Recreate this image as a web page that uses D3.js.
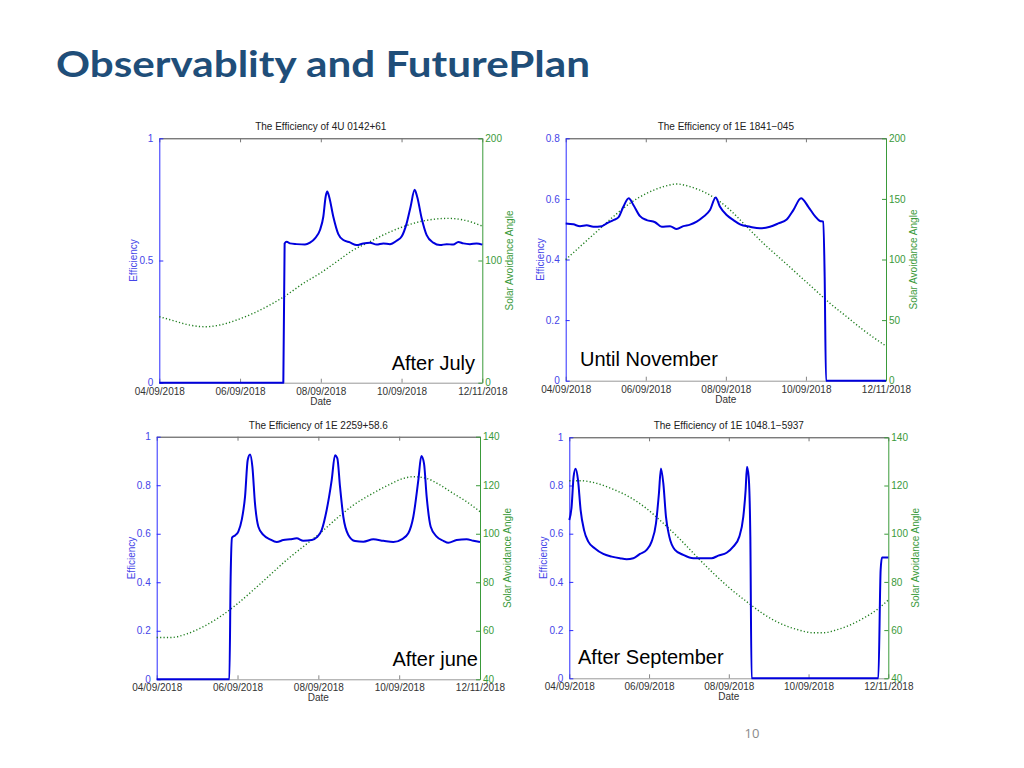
<!DOCTYPE html>
<html><head><meta charset="utf-8">
<script src="https://d3js.org/d3.v7.min.js"></script>
<style>body{margin:0;background:#fff}svg{display:block}</style>
</head><body>
<svg id="c" width="1024" height="768"></svg>
<script>
// ---------- data ----------
const dateTicks = ["04/09/2018","06/09/2018","08/09/2018","10/09/2018","12/11/2018"];
const tickPos = [0,1,2,3,4];
const titles = ["The Efficiency of 4U 0142+61","The Efficiency of 1E 1841\u2212045","The Efficiency of 1E 2259+58.6","The Efficiency of 1E 1048.1\u22125937"];
const notes = ["After July","Until November","After june","After September"];
const effTicks1 = [0,0.5,1], angTicks1 = [0,100,200];
const effTicks2 = [0,0.2,0.4,0.6,0.8], angTicks2 = [0,50,100,150,200];
const effTicks3 = [0,0.2,0.4,0.6,0.8,1], angTicks3 = [40,60,80,100,120,140];
const effTicks4 = [0,0.2,0.4,0.6,0.8,1], angTicks4 = [40,60,80,100,120,140];

const eff1 = [[0,0],[1.536,0],[1.552,0.57],[1.577,0.577],[1.618,0.570],[1.70,0.567],[1.804,0.565],[1.866,0.573],[1.928,0.591],[1.99,0.625],[2.031,0.679],[2.06,0.761],[2.08,0.782],[2.105,0.759],[2.155,0.679],[2.217,0.608],[2.279,0.584],[2.361,0.574],[2.444,0.563],[2.526,0.570],[2.609,0.573],[2.691,0.565],[2.774,0.570],[2.857,0.567],[2.939,0.581],[3.001,0.598],[3.063,0.652],[3.112,0.720],[3.162,0.789],[3.195,0.759],[3.249,0.673],[3.311,0.604],[3.393,0.573],[3.476,0.563],[3.558,0.567],[3.641,0.565],[3.703,0.576],[3.765,0.570],[3.847,0.567],[3.93,0.570],[4.0,0.565]];
const ang1 = [[0,54.0],[0.173,50.8],[0.338,47.7],[0.566,45.8],[0.751,47.2],[0.958,51.3],[1.164,56.8],[1.37,63.6],[1.577,71.8],[1.783,81.3],[1.99,89.5],[2.196,99.0],[2.403,108.6],[2.609,115.4],[2.816,122.2],[3.022,127.7],[3.228,131.8],[3.435,134.0],[3.579,134.5],[3.765,133.2],[4.0,128.2]];

const eff2 = [[0,0.519],[0.096,0.516],[0.179,0.510],[0.262,0.513],[0.345,0.508],[0.45,0.510],[0.512,0.519],[0.595,0.530],[0.658,0.539],[0.72,0.574],[0.787,0.602],[0.845,0.580],[0.928,0.543],[1.011,0.530],[1.116,0.523],[1.199,0.508],[1.303,0.510],[1.386,0.501],[1.469,0.510],[1.553,0.515],[1.636,0.525],[1.719,0.541],[1.802,0.563],[1.873,0.605],[1.927,0.574],[2.01,0.547],[2.094,0.530],[2.177,0.516],[2.302,0.508],[2.427,0.503],[2.551,0.508],[2.656,0.519],[2.76,0.532],[2.843,0.563],[2.939,0.602],[3.03,0.574],[3.113,0.543],[3.176,0.527],[3.217,0.525],[3.234,0.343],[3.251,0],[4.0,0]];
const ang2 = [[0,99.9],[0.179,110.6],[0.387,123.0],[0.595,135.4],[0.803,146.4],[1.011,154.6],[1.22,160.1],[1.386,162.3],[1.553,160.1],[1.761,154.6],[1.927,147.7],[2.052,140.9],[2.26,127.1],[2.469,113.3],[2.677,101.0],[2.885,88.6],[3.093,76.2],[3.301,63.8],[3.509,52.8],[3.717,41.8],[4.0,28.6]];

const eff3 = [[0,0],[0.899,0],[0.915,0.423],[0.932,0.584],[0.969,0.593],[1.01,0.609],[1.052,0.657],[1.093,0.753],[1.126,0.904],[1.155,0.927],[1.184,0.876],[1.216,0.725],[1.258,0.629],[1.32,0.595],[1.402,0.577],[1.485,0.566],[1.567,0.574],[1.649,0.577],[1.732,0.581],[1.814,0.571],[1.918,0.574],[1.979,0.585],[2.041,0.615],[2.103,0.698],[2.165,0.821],[2.206,0.924],[2.235,0.911],[2.268,0.794],[2.309,0.670],[2.371,0.595],[2.454,0.570],[2.557,0.567],[2.68,0.577],[2.804,0.571],[2.928,0.566],[3.031,0.577],[3.113,0.602],[3.175,0.670],[3.237,0.821],[3.274,0.920],[3.307,0.890],[3.34,0.753],[3.39,0.629],[3.464,0.588],[3.546,0.571],[3.608,0.563],[3.711,0.574],[3.835,0.577],[3.918,0.571],[4.0,0.566]];
const ang3 = [[0,57.2],[0.165,57.2],[0.371,58.7],[0.577,61.7],[0.784,65.8],[0.99,70.9],[1.196,76.8],[1.402,83.0],[1.608,89.2],[1.814,94.7],[2.021,100.2],[2.227,106.3],[2.433,111.8],[2.639,116.0],[2.845,119.7],[3.052,122.8],[3.175,123.5],[3.34,122.8],[3.505,120.1],[3.67,116.6],[3.835,113.2],[4.0,109.1]];

const eff4 = [[0,0.657],[0.029,0.712],[0.054,0.837],[0.079,0.870],[0.109,0.823],[0.142,0.698],[0.184,0.616],[0.238,0.567],[0.322,0.539],[0.426,0.516],[0.531,0.505],[0.635,0.498],[0.719,0.494],[0.803,0.498],[0.886,0.516],[0.97,0.533],[1.032,0.567],[1.087,0.643],[1.124,0.768],[1.149,0.871],[1.179,0.809],[1.212,0.671],[1.254,0.588],[1.325,0.533],[1.429,0.512],[1.555,0.498],[1.68,0.498],[1.785,0.498],[1.868,0.509],[1.973,0.521],[2.056,0.546],[2.132,0.588],[2.182,0.671],[2.211,0.781],[2.228,0.878],[2.249,0.837],[2.27,0.588],[2.286,0],[3.875,0],[3.904,0.45],[3.921,0.501],[4.0,0.501]];
const ang4 = [[0,122.0],[0.134,122.0],[0.343,120.9],[0.552,118.4],[0.761,115.1],[0.97,110.4],[1.179,104.3],[1.388,97.7],[1.597,90.5],[1.806,83.6],[2.015,77.3],[2.224,71.8],[2.433,66.7],[2.642,62.8],[2.851,60.3],[3.06,58.9],[3.185,58.9],[3.352,60.1],[3.519,62.1],[3.686,64.9],[3.854,68.4],[4.0,72.5]];

// ---------- layout ----------
const panels = [
  {box:[159.3,138.3,482.3,382.7], effTicks:effTicks1, angTicks:angTicks1, eff:eff1, ang:ang1, noteX:475, noteY:370, anchor:"end"},
  {box:[565.7,138.3,886,380.7], effTicks:effTicks2, angTicks:angTicks2, eff:eff2, ang:ang2, noteX:580, noteY:366, anchor:"start"},
  {box:[156.7,436.7,480,679.3], effTicks:effTicks3, angTicks:angTicks3, eff:eff3, ang:ang3, noteX:478, noteY:666, anchor:"end"},
  {box:[569.3,437.3,888.3,678.3], effTicks:effTicks4, angTicks:angTicks4, eff:eff4, ang:ang4, noteX:578, noteY:664, anchor:"start"}
];

const svg = d3.select("#c");
const FONT = "'Liberation Sans', Arial, Helvetica, sans-serif";
const BLUE = "#0000dd", BLUE_T = "#4545e8", GREEN = "#1d7d1d", GREEN_T = "#3a9a3a";

svg.append("text").attr("x",56).attr("y",77)
  .attr("font-family","Lato, 'Open Sans', sans-serif").attr("font-weight","bold")
  .attr("font-size",36).attr("fill","#1f4e79")
  .attr("textLength",534).attr("lengthAdjust","spacingAndGlyphs")
  .text("Observablity and FuturePlan");

svg.append("text").attr("x",752).attr("y",738).attr("text-anchor","middle")
  .attr("font-family","'Open Sans', Lato, sans-serif").attr("font-size",13).attr("fill","#8a8a8a")
  .text("10");

panels.forEach((p,i)=>{
  const [L,T,R,B] = p.box;
  const g = svg.append("g");
  const x = d3.scaleLinear().domain([0,4]).range([L,R]);
  const ye = d3.scaleLinear().domain(d3.extent(p.effTicks)).range([B,T]);
  const ya = d3.scaleLinear().domain(d3.extent(p.angTicks)).range([B,T]);

  // top axis (ticks only)
  const top = g.append("g").attr("transform",`translate(0,${T})`)
    .call(d3.axisTop(x).tickValues(tickPos).tickFormat("").tickSize(-4).tickSizeOuter(0));
  top.select(".domain").attr("stroke","#444");
  top.selectAll(".tick line").attr("stroke","#777");
  // bottom axis
  const bot = g.append("g").attr("transform",`translate(0,${B})`)
    .call(d3.axisBottom(x).tickValues(tickPos).tickFormat((d,k)=>dateTicks[k]).tickSize(-4).tickSizeOuter(0).tickPadding(5));
  bot.select(".domain").attr("stroke","#999");
  bot.selectAll(".tick line").attr("stroke","#888");
  bot.selectAll("text").attr("font-family",FONT).attr("font-size",10).attr("fill","#333");
  // left axis
  const la = g.append("g").attr("transform",`translate(${L},0)`)
    .call(d3.axisLeft(ye).tickValues(p.effTicks).tickSize(-4).tickSizeOuter(0).tickPadding(6).tickFormat(d3.format("~g")));
  la.select(".domain").attr("stroke","#2a2aff");
  la.selectAll(".tick line").attr("stroke","#2a2aff");
  la.selectAll("text").attr("font-family",FONT).attr("font-size",10).attr("fill",BLUE_T);
  // right axis
  const ra = g.append("g").attr("transform",`translate(${R},0)`)
    .call(d3.axisRight(ya).tickValues(p.angTicks).tickSize(-4).tickSizeOuter(0).tickPadding(3));
  ra.select(".domain").attr("stroke","#3a9a3a");
  ra.selectAll(".tick line").attr("stroke","#3a9a3a");
  ra.selectAll("text").attr("font-family",FONT).attr("font-size",10).attr("fill",GREEN_T);

  // title and axis labels
  g.append("text").attr("x",(L+R)/2).attr("y",T-8).attr("text-anchor","middle")
    .attr("font-family",FONT).attr("font-size",10).attr("fill","#222").text(titles[i]);
  g.append("text").attr("x",(L+R)/2).attr("y",B+22).attr("text-anchor","middle")
    .attr("font-family",FONT).attr("font-size",10).attr("fill","#333").text("Date");
  g.append("text").attr("transform",`translate(${L-22},${(T+B)/2}) rotate(-90)`).attr("text-anchor","middle")
    .attr("font-family",FONT).attr("font-size",10).attr("fill",BLUE_T).text("Efficiency");
  g.append("text").attr("transform",`translate(${R+31},${(T+B)/2}) rotate(-90)`).attr("text-anchor","middle")
    .attr("font-family",FONT).attr("font-size",10).attr("fill",GREEN_T).text("Solar Avoidance Angle");

  // series
  g.append("path").datum(p.ang)
    .attr("d",d3.line().x(d=>x(d[0])).y(d=>ya(d[1])).curve(d3.curveMonotoneX))
    .attr("fill","none").attr("stroke",GREEN).attr("stroke-width",1.4).attr("stroke-dasharray","1.2,2.2");
  g.append("path").datum(p.eff)
    .attr("d",d3.line().x(d=>x(d[0])).y(d=>ye(d[1])).curve(d3.curveMonotoneX))
    .attr("fill","none").attr("stroke",BLUE).attr("stroke-width",2).attr("stroke-linejoin","round");

  // annotation
  g.append("text").attr("x",p.noteX).attr("y",p.noteY).attr("text-anchor",p.anchor)
    .attr("font-family",FONT).attr("font-size",20).attr("fill","#000").text(notes[i]);
});
</script>
</body></html>
